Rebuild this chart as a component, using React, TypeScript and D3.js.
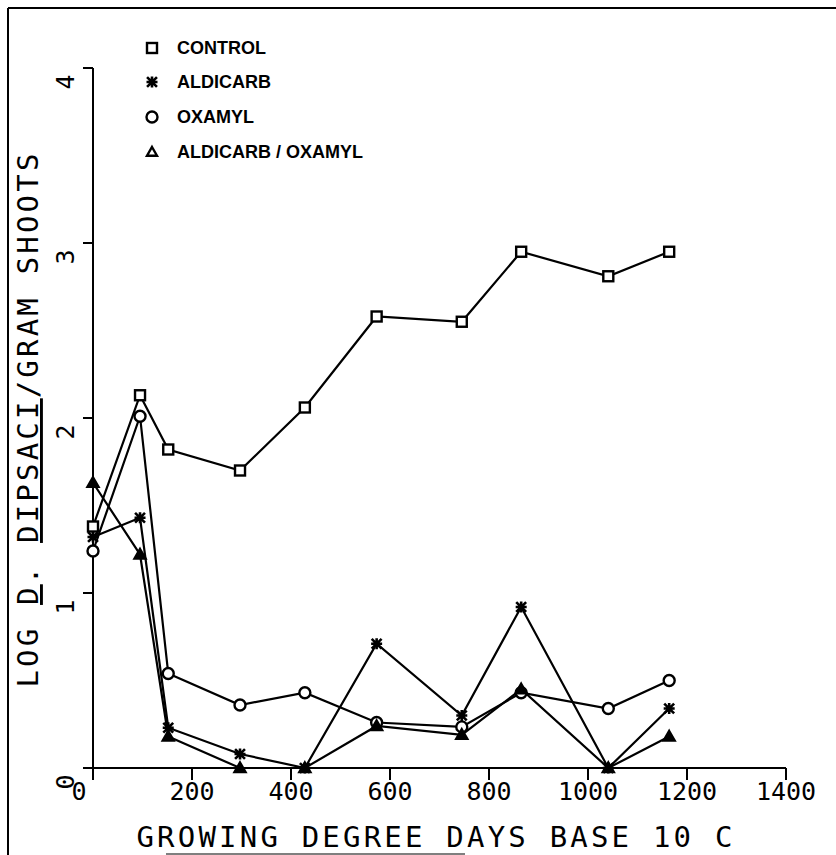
import React, { useEffect, useRef } from "react";
import * as d3 from "d3";

// growing degree days (base 10 C) at each sampling
const gdd = [0, 95, 152, 297, 428, 573, 745, 865, 1041, 1164];

// log D. dipsaci / gram shoots
const control = [1.38, 2.13, 1.82, 1.7, 2.06, 2.58, 2.55, 2.95, 2.81, 2.95];
const aldicarb = [1.32, 1.43, 0.23, 0.08, 0.0, 0.71, 0.3, 0.92, 0.0, 0.34];
const oxamyl = [1.24, 2.01, 0.54, 0.36, 0.43, 0.26, 0.235, 0.43, 0.34, 0.5];
const aldicarbOxamyl = [1.63, 1.22, 0.18, 0.0, 0.0, 0.24, 0.19, 0.45, 0.0, 0.18];

const xTicks = [0, 200, 400, 600, 800, 1000, 1200, 1400];
const yTicks = [0, 1, 2, 3, 4];

const seriesNames = ["CONTROL", "ALDICARB", "OXAMYL", "ALDICARB / OXAMYL"];
const seriesMarkers = ["square", "asterisk", "circle", "triangle"];

const MONO = "'DejaVu Sans Mono', monospace";

const App = () => {
  const svgRef = useRef(null);

  useEffect(() => {
    const svg = d3.select(svgRef.current);
    svg.selectAll("*").remove();

    const width = 836,
      height = 855;
    svg.attr("width", width).attr("height", height);

    const x = d3.scaleLinear().domain([0, 1400]).range([93, 786]);
    const y = d3.scaleLinear().domain([0, 4]).range([768, 68]);

    // page frame (left / top edge, bit of bottom)
    svg.append("line").attr("x1", 8).attr("y1", 8).attr("x2", 836).attr("y2", 8)
      .attr("stroke", "#000").attr("stroke-width", 2);
    svg.append("line").attr("x1", 8).attr("y1", 8).attr("x2", 8).attr("y2", 855)
      .attr("stroke", "#000").attr("stroke-width", 2);
    svg.append("line").attr("x1", 166).attr("y1", 854).attr("x2", 465).attr("y2", 854)
      .attr("stroke", "#555").attr("stroke-width", 1.5);

    const g = svg.append("g");

    // x axis
    g.append("line").attr("x1", x(0)).attr("x2", x(1400)).attr("y1", y(0)).attr("y2", y(0))
      .attr("stroke", "#000").attr("stroke-width", 2);
    g.selectAll(".xtick").data(xTicks).enter().append("line")
      .attr("x1", (d) => x(d)).attr("x2", (d) => x(d))
      .attr("y1", y(0)).attr("y2", y(0) + 12)
      .attr("stroke", "#000").attr("stroke-width", 2);
    g.selectAll(".xlab").data(xTicks).enter().append("text")
      .attr("x", (d) => x(d) + (d === 0 ? -14 : 0))
      .attr("y", 800)
      .attr("text-anchor", "middle")
      .attr("font-family", MONO)
      .attr("font-size", 25)
      .text((d) => d);

    // y axis
    g.append("line").attr("x1", x(0)).attr("x2", x(0)).attr("y1", y(0)).attr("y2", y(4))
      .attr("stroke", "#000").attr("stroke-width", 2);
    g.selectAll(".ytick").data(yTicks).enter().append("line")
      .attr("x1", x(0) - 10).attr("x2", x(0))
      .attr("y1", (d) => y(d)).attr("y2", (d) => y(d))
      .attr("stroke", "#000").attr("stroke-width", 2);
    g.selectAll(".ylab").data(yTicks).enter().append("text")
      .attr("transform", (d) => `translate(74, ${y(d) + 14}) rotate(-90)`)
      .attr("text-anchor", "middle")
      .attr("font-family", MONO)
      .attr("font-size", 25)
      .text((d) => d);

    // axis titles
    g.append("text")
      .attr("x", 436)
      .attr("y", 847)
      .attr("text-anchor", "middle")
      .attr("font-family", MONO)
      .attr("font-size", 29)
      .attr("letter-spacing", 3.2)
      .text("GROWING DEGREE DAYS BASE 10 C");

    const yTitle = g.append("text")
      .attr("transform", "translate(38, 419) rotate(-90)")
      .attr("text-anchor", "middle")
      .attr("font-family", MONO)
      .attr("font-size", 29)
      .attr("letter-spacing", 3.2);
    yTitle.append("tspan").text("LOG ");
    yTitle.append("tspan").attr("text-decoration", "underline").text("D");
    yTitle.append("tspan").text(". ");
    yTitle.append("tspan").attr("text-decoration", "underline").text("DIPSACI");
    yTitle.append("tspan").text("/GRAM SHOOTS");

    // series
    const allSeries = [control, aldicarb, oxamyl, aldicarbOxamyl];
    const line = d3.line()
      .x((d) => x(d[0]))
      .y((d) => y(d[1]));

    allSeries.forEach((vals) => {
      const pts = gdd.map((t, i) => [t, vals[i]]);
      g.append("path")
        .attr("d", line(pts))
        .attr("fill", "none")
        .attr("stroke", "#000")
        .attr("stroke-width", 2.2);
    });

    const drawMarker = (sel, kind, cx, cy, legend) => {
      if (kind === "square") {
        sel.append("rect")
          .attr("x", cx - 5).attr("y", cy - 5)
          .attr("width", 10).attr("height", 10)
          .attr("fill", "#fff").attr("stroke", "#000").attr("stroke-width", 2.4);
      } else if (kind === "circle") {
        sel.append("circle")
          .attr("cx", cx).attr("cy", cy).attr("r", 5.5)
          .attr("fill", "#fff").attr("stroke", "#000").attr("stroke-width", 2.4);
      } else if (kind === "triangle") {
        const s = legend ? 5 : 5.5;
        sel.append("path")
          .attr("d", `M${cx},${cy - s}L${cx + s},${cy + s * 0.75}L${cx - s},${cy + s * 0.75}Z`)
          .attr("fill", legend ? "#fff" : "#000")
          .attr("stroke", "#000").attr("stroke-width", 2.4);
      } else {
        const s = 5.5;
        const a = s * 0.9;
        sel.append("path")
          .attr("d", `M${cx},${cy - s}V${cy + s}M${cx - a},${cy - a}L${cx + a},${cy + a}M${cx - a},${cy + a}L${cx + a},${cy - a}M${cx - s},${cy}H${cx + s}`)
          .attr("stroke", "#000").attr("stroke-width", 2.6);
      }
    };

    allSeries.forEach((vals, k) => {
      gdd.forEach((t, i) => drawMarker(g, seriesMarkers[k], x(t), y(vals[i]), false));
    });

    // legend
    const legendRows = [48, 82, 117, 152];
    seriesNames.forEach((name, k) => {
      drawMarker(g, seriesMarkers[k], 152, legendRows[k], true);
      g.append("text")
        .attr("x", 177)
        .attr("y", legendRows[k])
        .attr("dy", "0.36em")
        .attr("font-family", "'Liberation Sans', Arial, sans-serif")
        .attr("font-weight", "bold")
        .attr("font-size", 18)
        .text(name);
    });
  }, []);

  return (
    <div style={{ position: "absolute", left: 0, top: 0, background: "#fff" }}>
      <svg ref={svgRef} style={{ display: "block" }}></svg>
    </div>
  );
};

export default App;
